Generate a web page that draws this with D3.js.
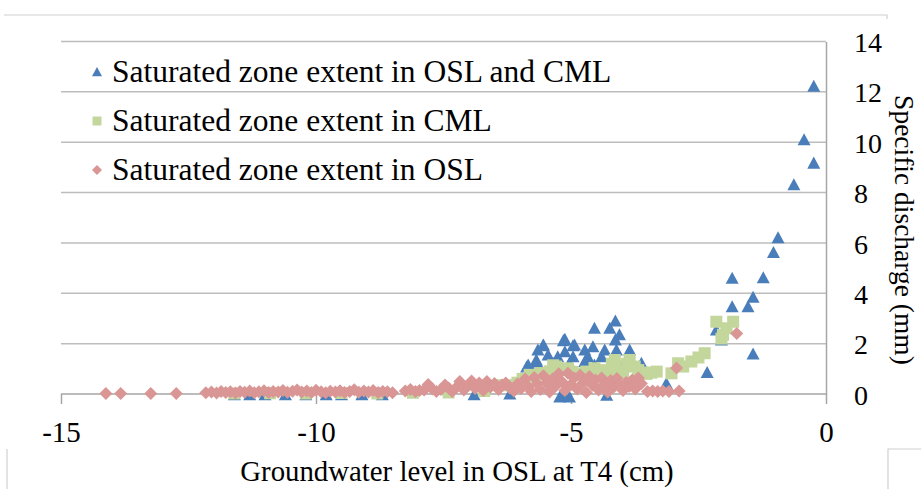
<!DOCTYPE html>
<html>
<head>
<meta charset="utf-8">
<script src="https://cdn.jsdelivr.net/npm/d3@7"></script>
<style>
  body { margin: 0; background: #fff; }
  text { font-family: "Liberation Serif", "Times New Roman", serif; fill: #000; }
</style>
</head>
<body>
<div id="chart"></div>
<script>
// ---- data ----

var seriesNames = [
  "Saturated zone extent in OSL and CML",
  "Saturated zone extent in CML",
  "Saturated zone extent in OSL"
];

var xTicks = [-15, -10, -5, 0];
var yTicks = [0, 2, 4, 6, 8, 10, 12, 14];

// blue triangles: OSL and CML
var bothPts = [
  [-11.6,-0.03],[-11.3,-0.03],[-11.0,-0.03],[-10.6,-0.03],[-10.2,-0.03],[-9.8,-0.03],
  [-9.5,-0.03],[-9.1,-0.03],[-8.7,-0.03],[-6.9,-0.03],[-6.2,0.0],
  [-5.22,-0.12],[-5.03,-0.12],[-5.13,-0.1],[-4.3,-0.05],
  [-5.87,1.07],[-5.84,1.15],[-5.75,0.9],[-5.68,1.35],[-5.67,1.27],[-5.65,1.75],
  [-5.55,1.92],[-5.54,1.95],[-5.45,1.55],[-5.35,1.22],[-5.26,1.48],[-5.15,2.12],
  [-5.12,2.17],[-5.12,1.68],[-5.03,1.22],[-4.96,1.48],[-4.96,1.92],[-4.93,1.95],
  [-4.73,1.75],[-4.73,1.29],[-4.67,1.48],[-4.57,1.88],[-4.54,2.61],[-4.54,1.15],
  [-4.40,1.48],[-4.34,1.75],[-4.24,2.61],[-4.13,2.9],[-4.13,2.15],[-4.11,1.75],
  [-4.05,2.35],[-4.05,1.15],[-3.91,1.35],[-3.85,1.75],[-3.78,1.15],[-3.62,1.22],
  [-3.13,0.42],[-2.33,0.85],[-2.15,2.54],[-2.05,2.15],[-1.84,4.6],[-1.84,3.47],
  [-1.53,3.47],[-1.43,3.84],[-1.43,1.59],[-1.23,4.62],[-1.03,5.62],[-0.94,6.21],
  [-0.63,8.31],[-0.43,10.1],[-0.24,9.17],[-0.24,12.22]
];

// green squares: CML
var cmlPts = [
  [-11.6,0.02],[-10.9,0.03],[-10.2,0.02],[-9.5,0.04],[-8.8,0.02],[-8.1,0.05],
  [-7.4,0.06],[-6.7,0.12],[-6.4,0.35],[-6.26,0.35],[-6.05,0.45],
  [-5.95,0.6],[-5.81,0.76],[-5.7,0.68],[-5.61,0.82],[-5.55,0.82],[-5.42,0.9],
  [-5.35,1.14],[-5.29,1.09],[-5.18,0.95],[-5.06,1.02],[-4.98,0.88],[-4.9,0.82],
  [-4.8,0.75],[-4.7,0.89],[-4.62,0.7],[-4.54,1.02],[-4.45,0.85],[-4.37,0.95],
  [-4.28,0.8],[-4.2,1.2],[-4.14,1.35],[-4.14,1.09],[-4.06,0.9],[-3.98,0.82],
  [-3.9,1.2],[-3.85,1.35],[-3.75,1.09],[-3.68,0.95],[-3.6,0.85],[-3.52,0.8],
  [-3.42,0.85],[-3.32,0.89],[-3.03,0.82],[-2.9,1.22],[-2.8,1.09],[-2.64,1.29],
  [-2.5,1.45],[-2.38,1.62],[-2.15,2.87],[-2.05,2.2],[-2.02,2.35],[-1.95,2.61],
  [-1.82,2.87]
];

// pink diamonds: OSL
var oslPts = [
  [-14.12,0.02],[-13.83,0.02],[-13.24,0.02],[-12.74,0.02],
  [-12.16,0.05],[-12.05,0.08],[-11.95,0.04],[-11.86,0.1],[-11.77,0.06],[-11.68,0.09],
  [-11.58,0.04],[-11.49,0.1],[-11.4,0.07],[-11.3,0.12],[-11.21,0.05],[-11.12,0.09],
  [-11.02,0.13],[-10.93,0.06],[-10.84,0.1],[-10.74,0.08],[-10.65,0.14],[-10.56,0.07],
  [-10.46,0.11],[-10.37,0.16],[-10.28,0.08],[-10.18,0.12],[-10.09,0.06],[-10.0,0.15],
  [-9.9,0.09],[-9.81,0.05],[-9.72,0.11],[-9.62,0.08],[-9.53,0.13],[-9.44,0.06],
  [-9.34,0.1],[-9.25,0.17],[-9.16,0.07],[-9.06,0.12],[-8.97,0.08],[-8.88,0.14],
  [-8.78,0.06],[-8.69,0.1],[-8.6,0.09],[-8.5,0.05],
  [-8.25,0.12],[-8.15,0.18],[-8.05,0.1],[-7.97,0.14],
  [-7.88,0.16],[-7.8,0.38],[-7.72,0.2],[-7.64,0.1],
  [-7.55,0.18],[-7.47,0.36],[-7.4,0.24],[-7.33,0.1],
  [-7.25,0.26],[-7.18,0.5],[-7.1,0.16],[-7.02,0.34],[-6.95,0.52],[-6.88,0.22],
  [-6.8,0.44],[-6.72,0.14],[-6.65,0.5],[-6.58,0.28],[-6.5,0.42],[-6.42,0.18],
  [-6.35,0.36],[-6.28,0.44],[-6.2,0.24],[-6.12,0.12],[-6.05,0.4],[-5.98,0.22],
  [-5.9,0.6],[-5.84,0.3],[-5.78,0.1],[-5.72,0.66],[-5.66,0.4],[-5.6,0.18],
  [-5.54,0.72],[-5.48,0.45],[-5.42,0.08],[-5.36,0.6],[-5.3,0.32],[-5.24,0.8],
  [-5.18,0.5],[-5.12,0.14],[-5.06,0.82],[-5.0,0.38],[-4.94,0.64],[-4.88,0.2],
  [-4.82,0.74],[-4.76,0.45],[-4.7,0.06],[-4.64,0.7],[-4.58,0.35],[-4.52,0.56],
  [-4.46,0.16],[-4.4,0.64],[-4.34,0.4],[-4.28,0.08],[-4.22,0.54],[-4.16,0.28],
  [-4.1,0.62],[-4.04,0.35],[-3.98,0.14],[-3.92,0.46],[-3.86,0.3],[-3.8,0.56],
  [-3.74,0.2],[-3.68,0.64],[-3.62,0.42],
  [-3.5,0.1],[-3.4,0.12],[-3.3,0.1],[-3.2,0.12],[-3.08,0.1],[-2.88,0.12],
  [-2.93,1.03],[-1.75,2.4]
];

// ------- setup -------

var W = 921, H = 489;
var colors = ["#4a7ebb", "#c3d69b", "#d99694"];

var svg = d3.select("#chart").append("svg")
  .attr("width", W).attr("height", H);

var x = d3.scaleLinear().domain([-15, 0]).range([61, 826]);
var y = d3.scaleLinear().domain([0, 14]).range([394, 41.5]);

function tri(r) { return "M0," + (-r) + "L" + r + "," + (r * 0.85) + "L" + (-r) + "," + (r * 0.85) + "Z"; }
function sq(r) { return "M" + (-r) + "," + (-r) + "h" + (2 * r) + "v" + (2 * r) + "h" + (-2 * r) + "Z"; }
function dia(r) { return "M0," + (-r) + "L" + r + ",0L0," + r + "L" + (-r) + ",0Z"; }
var shapes = [tri, sq, dia];

// plain hyphen like the original, not d3's unicode minus
function fmt(d) { return String(d); }

// outer frame bits (cropped chart border)
var frame = svg.append("g").attr("stroke", "#d0d0d0").attr("stroke-width", 1.2).attr("fill", "none");
frame.append("path").attr("d", "M4,15H887V19");
frame.append("path").attr("d", "M7,449V489");
frame.append("path").attr("d", "M888,489V449H921");

// gridlines
svg.append("g").selectAll("line")
  .data(yTicks.filter(function(d) { return d > 0; }))
  .enter().append("line")
  .attr("x1", x(-15)).attr("x2", x(0))
  .attr("y1", function(d) { return y(d); }).attr("y2", function(d) { return y(d); })
  .attr("stroke", "#bdbdbd").attr("stroke-width", 1.5);

// x axis
var xAxis = svg.append("g")
  .attr("transform", "translate(0," + y(0) + ")")
  .call(d3.axisBottom(x).tickValues(xTicks).tickSize(10).tickPadding(17).tickFormat(fmt));
xAxis.select(".domain").attr("stroke", "#a6a6a6").attr("stroke-width", 1.5).attr("d", "M" + x(-15) + ",0H" + x(0));
xAxis.selectAll(".tick line").attr("stroke", "#a6a6a6").attr("stroke-width", 1.5);
xAxis.selectAll("text").attr("font-size", 29).attr("font-family", "Liberation Serif").attr("fill", "#000");

// y axis on the right
var yAxis = svg.append("g")
  .attr("transform", "translate(" + x(0) + ",0)")
  .call(d3.axisRight(y).tickValues(yTicks).tickSize(0).tickPadding(28).tickFormat(fmt));
yAxis.select(".domain").attr("stroke", "#a6a6a6").attr("stroke-width", 1.5);
yAxis.selectAll("text").attr("font-size", 28).attr("font-family", "Liberation Serif").attr("fill", "#000").attr("dy", "0.36em");

// points
var allSeries = [bothPts, cmlPts, oslPts];
allSeries.forEach(function(pts, i) {
  svg.append("g").selectAll("path")
    .data(pts)
    .enter().append("path")
    .attr("d", i == 0 ? tri(6.5) : i == 1 ? sq(6) : dia(6.5))
    .attr("transform", function(d) { return "translate(" + x(d[0]) + "," + y(d[1]) + ")"; })
    .attr("fill", colors[i]);
});

// legend
var legend = svg.append("g");
seriesNames.forEach(function(name, i) {
  var ly = 72 + i * 49;
  legend.append("path")
    .attr("d", shapes[i](i == 1 ? 4.5 : 5))
    .attr("transform", "translate(97," + ly + ")")
    .attr("fill", colors[i]);
  legend.append("text")
    .attr("x", 112).attr("y", ly + 10)
    .attr("font-size", 31.5)
    .text(name);
});

// axis titles
svg.append("text")
  .attr("x", 457).attr("y", 481)
  .attr("text-anchor", "middle")
  .attr("font-size", 28.8)
  .text("Groundwater level in OSL at T4 (cm)");

svg.append("text")
  .attr("transform", "translate(895,230) rotate(90)")
  .attr("text-anchor", "middle")
  .attr("font-size", 27.5)
  .text("Specific discharge (mm)");
</script>
</body>
</html>
